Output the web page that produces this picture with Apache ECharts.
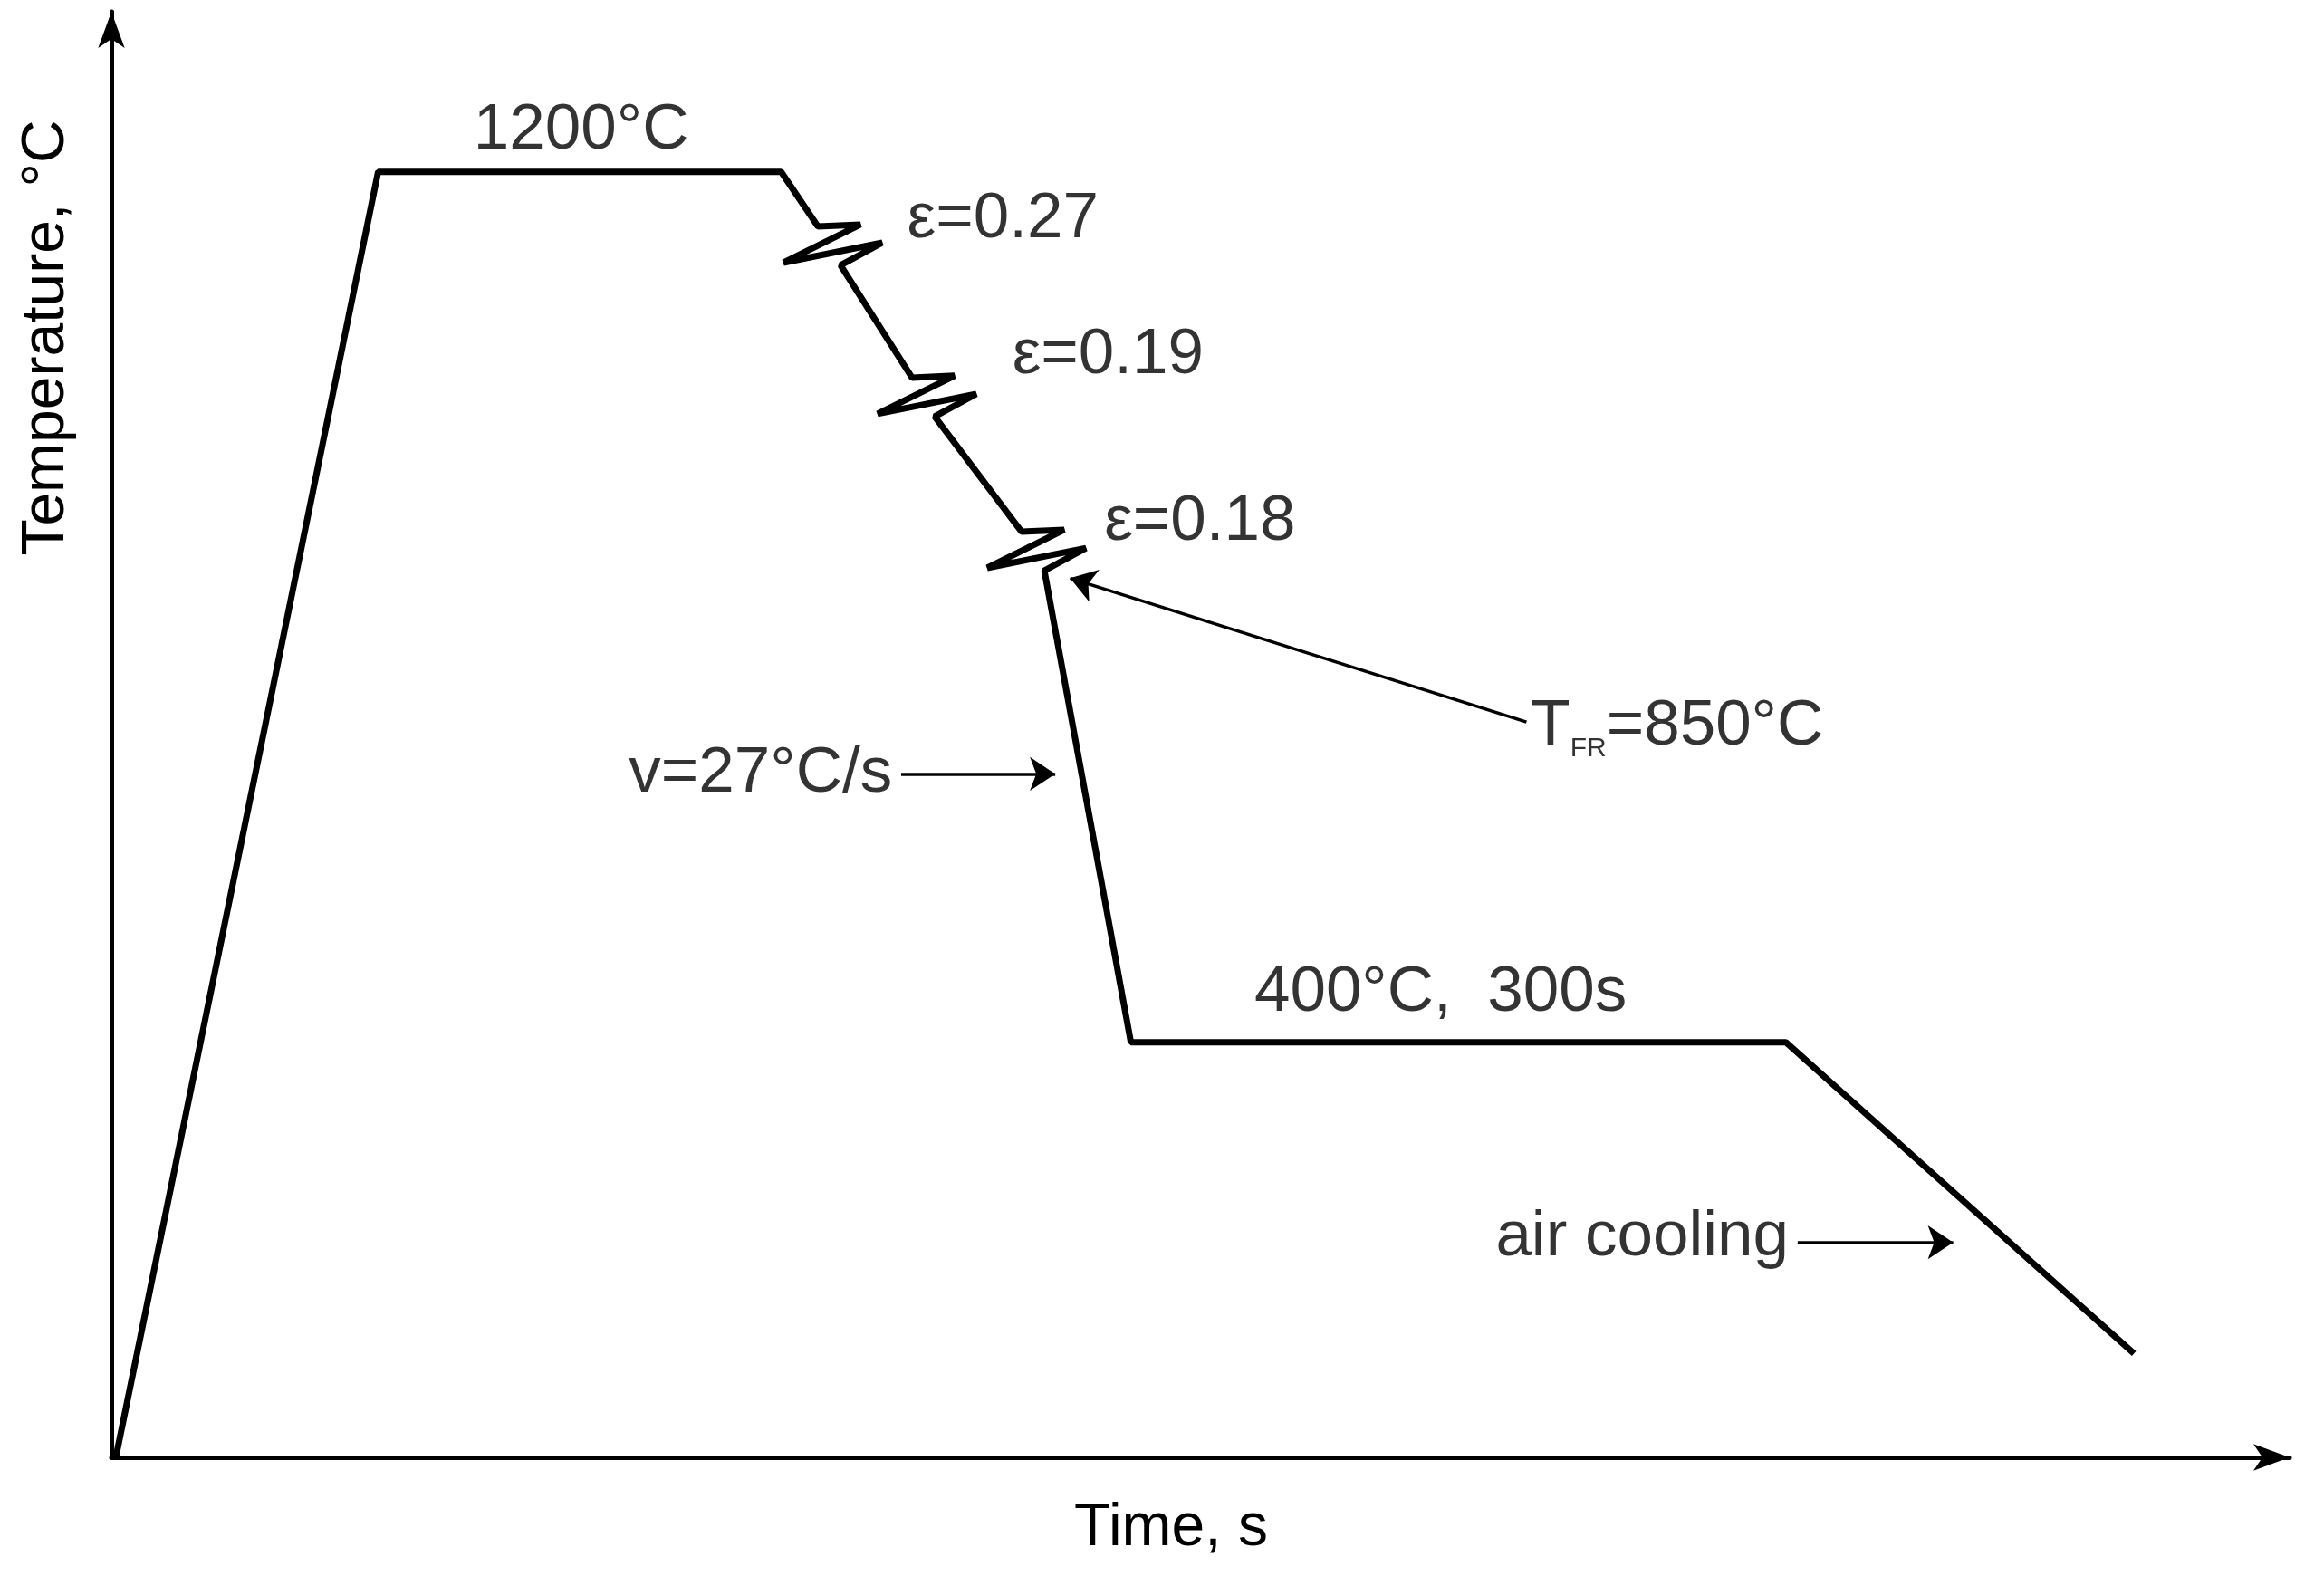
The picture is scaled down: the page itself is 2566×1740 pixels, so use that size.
<!DOCTYPE html>
<html><head><meta charset="utf-8">
<script src="https://cdn.jsdelivr.net/npm/echarts@6/dist/echarts.min.js"></script>
<style>html,body{margin:0;background:#fff}#c{width:2566px;height:1740px}</style></head>
<body><div id="c"></div>
<script>
// Temperature–time schedule (schematic units)
const profileX = [3,180,452, 476.8,505.5,453.6,520.2,492.1, 540.3,569,517.1,583.7,555.6, 614.3,643,591.1,657.7,629.6, 688,1130,1365];
const profileY = [0,867,867, 830.2,831.5,805.8,819.2,804, 728.2,729.5,703.8,717.2,702, 624.3,625.6,599.9,613.3,598.1, 280,280,70];
const arrows = [
  [[955,496],[647,593]],
  [[533,461],[637,461]],
  [[1138,145],[1243,145]]
];
const labels = [
  {t:'1200°C', x:317, y:895, pos:'inside'},
  {t:'ε=0.27', x:537, y:835, pos:'right'},
  {t:'ε=0.19', x:608, y:743, pos:'right'},
  {t:'ε=0.18', x:670, y:631, pos:'right'},
  {t:'{a|T}{s|FR}{a|=850°C}', x:958, y:493, pos:'right'},
  {t:'v=27°C/s', x:527, y:461, pos:'left'},
  {t:'400°C,  300s', x:897, y:313, pos:'inside'},
  {t:'air cooling', x:1132, y:148, pos:'left'}
];
const ch = echarts.init(document.getElementById('c'));
const fs = 71;
const ff = 'Arial, "Liberation Sans"';
ch.setOption({
  animation:false,
  grid:{left:123,right:38,top:13,bottom:131},
  xAxis:{type:'value',min:0,max:1470,splitLine:{show:false},axisTick:{show:false},axisLabel:{show:false},
    axisLine:{lineStyle:{color:'#000',width:5},symbol:['none','arrow'],symbolSize:[22,40]}},
  yAxis:{type:'value',min:0,max:975,splitLine:{show:false},axisTick:{show:false},axisLabel:{show:false},
    axisLine:{lineStyle:{color:'#000',width:5},symbol:['none','arrow'],symbolSize:[22,40]}},
  graphic:[
    {type:'text',x:1293,y:1688,style:{text:'Time, s',font:'66px '+ff,fill:'#000',align:'center',verticalAlign:'middle'}},
    {type:'text',x:52,y:373,rotation:Math.PI/2,style:{text:'Temperature, °C',font:'66px '+ff,fill:'#000',align:'center',verticalAlign:'middle'}}
  ],
  series:[
    {type:'line',data:profileX.map((x,i)=>[x,profileY[i]]),showSymbol:false,lineStyle:{color:'#000',width:7},z:3},
    {type:'lines',coordinateSystem:'cartesian2d',data:arrows.map(a=>({coords:a})),
      lineStyle:{color:'#000',width:3.5,opacity:1},symbol:['none','arrow'],symbolSize:28},
    {type:'scatter',symbolSize:0,data:labels.map(l=>({value:[l.x,l.y],label:{show:true,position:l.pos,formatter:l.t,distance:0}})),
      label:{color:'#000',fontSize:fs,fontFamily:ff,
        rich:{a:{fontSize:fs,fontFamily:ff,color:'#000'},s:{fontSize:30,color:'#000',padding:[50,0,0,0],fontFamily:ff}}}}
  ]
});
</script></body></html>
